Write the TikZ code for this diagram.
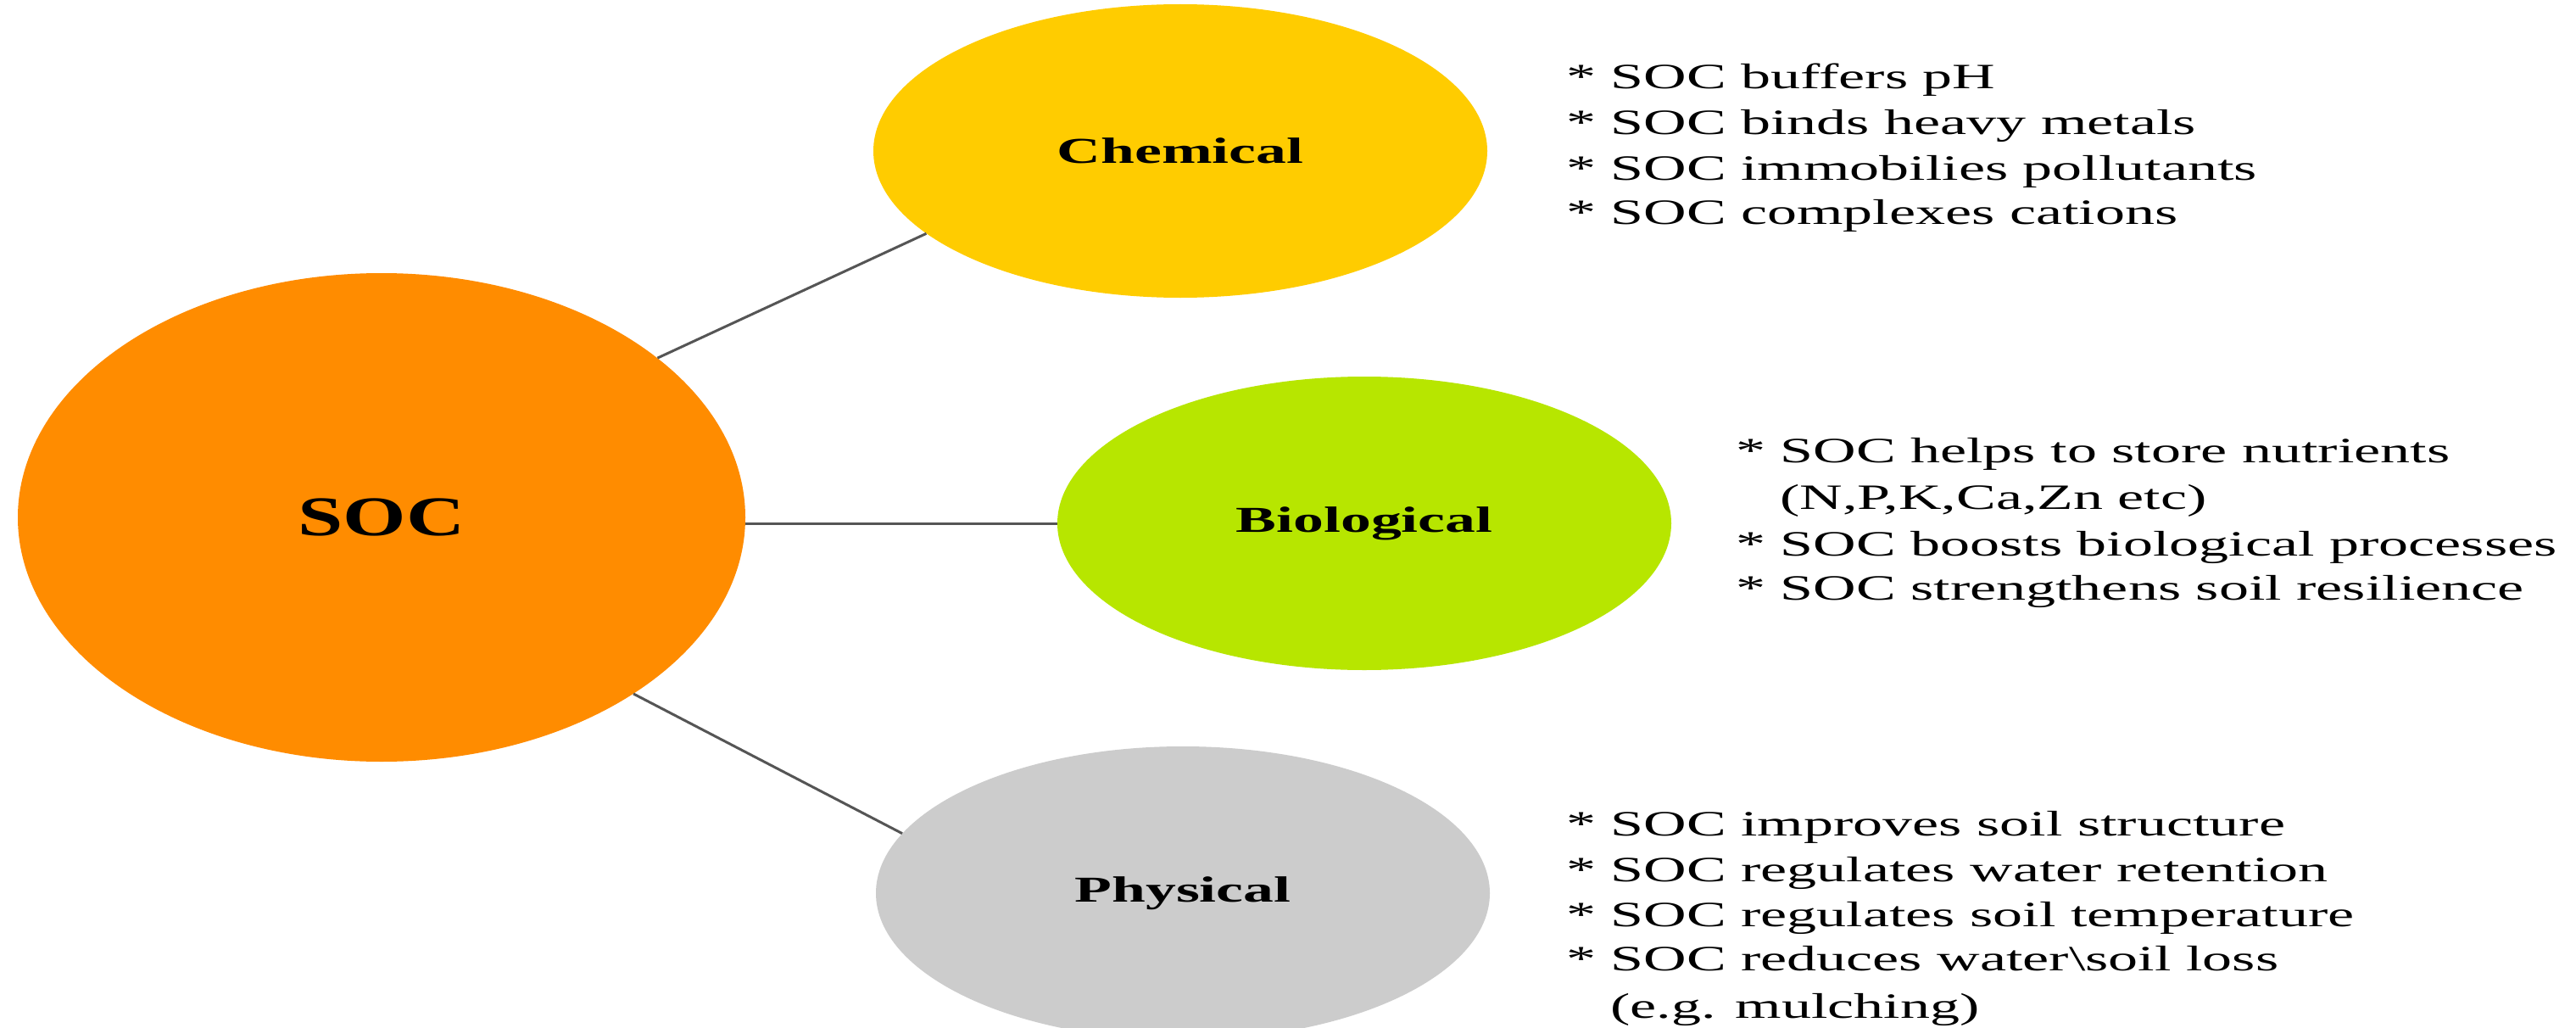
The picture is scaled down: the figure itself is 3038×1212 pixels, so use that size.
\documentclass[tikz,border=0pt]{standalone}
\usepackage{fontspec}
\setmainfont{Liberation Serif}
\newfontfamily\widetext[FakeStretch=1.667]{Liberation Serif}
\newfontfamily\widesoc[FakeStretch=1.45]{Liberation Serif}
\usetikzlibrary{shapes.geometric}
\definecolor{socorange}{RGB}{255,140,0}
\definecolor{chemgold}{RGB}{255,204,0}
\definecolor{biogreen}{RGB}{183,230,0}
\definecolor{physgray}{RGB}{204,204,204}
\definecolor{linkgray}{RGB}{85,85,85}
\begin{document}
\begin{tikzpicture}[x=1pt,y=-1pt,
  blob/.style={ellipse, inner sep=0pt, draw=none, minimum width=724pt, minimum height=346pt,
               font=\widetext\fontsize{43}{50}\selectfont\bfseries},
  link/.style={draw=linkgray, line width=3pt},
  info/.style={anchor=base west, inner sep=0pt, font=\widetext\fontsize{42}{50}\selectfont}]
\useasboundingbox (0,0) rectangle (3038,1212);
\clip (0,0) rectangle (3038,1212);
\fill[white] (0,0) rectangle (3038,1212);

\node[ellipse, inner sep=0pt, fill=socorange, minimum width=858pt, minimum height=576pt,
      font=\widesoc\fontsize{66}{72}\selectfont\bfseries] (soc) at (450,610) {SOC};
\node[blob, fill=chemgold] (chem) at (1392,178) {Chemical};
\node[blob, fill=biogreen] (bio) at (1609,617) {Biological};
\node[blob, fill=physgray] (phys) at (1395,1053) {Physical};

\draw[link] (soc.30) -- (chem.198);
\draw[link] (soc.east |- bio.west) -- (bio.west);
\draw[link] (soc.-35) -- (phys.168);

\node[info] (c1) at (1847,105) {* SOC buffers pH};
\node[info] (c2) at (1847,158) {* SOC binds heavy metals};
\node[info] (c3) at (1847,212) {* SOC immobilies pollutants};
\node[info] (c4) at (1847,264) {* SOC complexes cations};

\node[info] (b1) at (2047,545) {* SOC helps to store nutrients};
\node[info] (b2) at (2099,600) {(N,P,K,Ca,Zn etc)};
\node[info] (b3) at (2047,655) {* SOC boosts biological processes};
\node[info] (b4) at (2047,707) {* SOC strengthens soil resilience};

\node[info] (p1) at (1847,985) {* SOC improves soil structure};
\node[info] (p2) at (1847,1039) {* SOC regulates water retention};
\node[info] (p3) at (1847,1092) {* SOC regulates soil temperature};
\node[info] (p4) at (1847,1144) {* SOC reduces water\textbackslash soil loss};
\node[info] (p5) at (1899,1200) {(e.g. mulching)};
\end{tikzpicture}
\end{document}
